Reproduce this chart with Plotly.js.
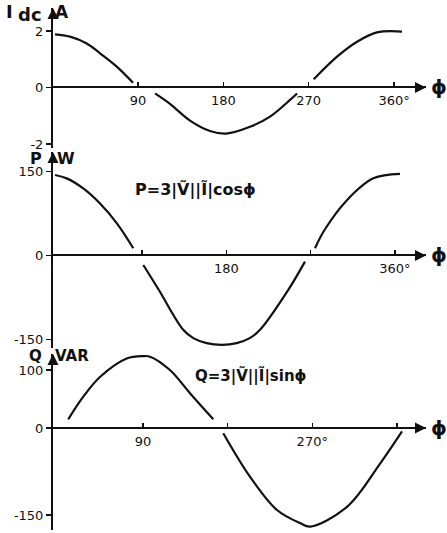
<!DOCTYPE html>
<html>
<head>
<meta charset="utf-8">
<script src="https://cdn.plot.ly/plotly-3.0.1.min.js"></script>
<style>html,body{margin:0;padding:0;background:#fff;}</style>
</head>
<body>
<div id="chart" style="width:447px;height:533px;"></div>
<script>
// Phase angle phi (degrees) with the readings of each quantity.
// A null entry breaks the drawn curve (gaps near the zero crossings).
const phiIdc = [2.4, 18.2, 35.9, 49.9, 67.5, 84.7, null, 107.9, 123.7, 144.8, 165.9, 182.8, 208.1, 229.2, 250.3, 257.7, null, 275.3, 299.9, 321, 342, 368.4];
const idcAmp = [1.88, 1.80, 1.56, 1.21, 0.74, 0.17, null, -0.21, -0.58, -1.17, -1.54, -1.63, -1.39, -1.03, -0.44, -0.21, null, 0.29, 1.09, 1.62, 1.95, 1.98];

const phiP = [-2.9, 9.6, 27.3, 45.2, 63, 80.7, null, 91.4, 107.4, 134, 144.8, 159, 175.4, 191, 205, 216, 246, 264, null, 274.7, 285, 308.8, 337, 365.4];
const pWatt = [144, 138, 120, 93, 58, 13, null, -17, -60, -133, -148, -157, -160, -157, -148, -133, -62, -11, null, 13, 46, 99, 138, 146];

const phiQ = [10.6, 26.6, 44.3, 72.7, 90.4, 97.5, 118.7, 140, 164.8, null, 175.4, 203.8, 232.2, 256.9, 267.9, 306.9, 342.3, 365.4];
const qVar = [15, 54, 88, 120, 124, 123, 100, 60, 15, null, -9, -84, -141, -164, -170, -136, -61, -6];

// Axis ticks and their labels
const phiTicks = [90, 180, 270, 360];
const phiLabelsIdc = ['90', '180', '270', '360°'];
const phiLabelsP = ['', '180', '', '360°'];
const phiLabelsQ = ['90', '', '270°', ''];
const idcTicks = [-2, 0, 2];
const idcLabels = ['-2', '0', '2'];
const pTicks = [-150, 0, 150];
const pLabels = ['-150', '0', '150'];
const qTicks = [-150, 0, 100];
const qLabels = ['-150', '0', '100'];

const W = 447, H = 533;
const ink = '#111';
const tickFont = {family: 'DejaVu Sans, sans-serif', size: 13, color: ink};
const boldFont = 'DejaVu Sans, sans-serif';

// vertical extent of each panel, measured from the top of the page
function dom(topPx, botPx) { return [1 - botPx / H, 1 - topPx / H]; }

const panels = [
  {dom: dom(8, 148),   yr: [-2.142, 2.814],  xr: [0.3, 393.7],  yt: idcTicks, ytt: idcLabels, xtt: phiLabelsIdc},
  {dom: dom(152, 348), yr: [-165.6, 185.2],  xr: [-5.0, 393.2], yt: pTicks,   ytt: pLabels,   xtt: phiLabelsP},
  {dom: dom(354, 530), yr: [-175.9, 127.6],  xr: [-5.6, 390.9], yt: qTicks,   ytt: qLabels,   xtt: phiLabelsQ}
];

const series = [[phiIdc, idcAmp], [phiP, pWatt], [phiQ, qVar]];

const data = series.map((s, i) => ({
  x: s[0], y: s[1],
  xaxis: i === 0 ? 'x' : 'x' + (i + 1),
  yaxis: i === 0 ? 'y' : 'y' + (i + 1),
  type: 'scatter', mode: 'lines',
  line: {color: ink, width: 2.2, shape: 'spline', smoothing: 1.0},
  connectgaps: false, hoverinfo: 'skip', showlegend: false
}));

const layout = {
  width: W, height: H,
  margin: {l: 53, r: 21, t: 0, b: 0, pad: 0},
  paper_bgcolor: '#fff', plot_bgcolor: '#fff',
  showlegend: false,
  annotations: []
};

panels.forEach((p, i) => {
  const s = i === 0 ? '' : String(i + 1);
  // horizontal phi axis sits on the zero line of the panel
  const zeroPos = p.dom[0] + (0 - p.yr[0]) / (p.yr[1] - p.yr[0]) * (p.dom[1] - p.dom[0]);
  layout['xaxis' + s] = {
    range: p.xr, domain: [0, 1], anchor: 'free', position: zeroPos,
    showgrid: false, zeroline: false, showline: false,
    tickmode: 'array', tickvals: phiTicks, ticktext: p.xtt,
    ticks: 'inside', ticklen: 5, tickwidth: 1.5, tickcolor: ink,
    ticklabelstandoff: 4,
    tickfont: tickFont, fixedrange: true
  };
  layout['yaxis' + s] = {
    range: p.yr, domain: p.dom, anchor: 'x' + s,
    showgrid: false, showline: true, linecolor: ink, linewidth: 2,
    zeroline: true, zerolinecolor: ink, zerolinewidth: 2,
    tickmode: 'array', tickvals: p.yt, ticktext: p.ytt,
    ticks: 'outside', ticklen: 5, tickwidth: 1.5, tickcolor: ink,
    tickfont: tickFont, fixedrange: true
  };
  // arrowheads on both axes
  layout.annotations.push({
    xref: 'x' + s + ' domain', yref: 'y' + s + ' domain', x: 0, y: 1,
    ax: 0, ay: 12, showarrow: true, arrowhead: 2, arrowsize: 1.1,
    arrowwidth: 2, arrowcolor: ink, text: ''
  });
  layout.annotations.push({
    xref: 'x' + s + ' domain', yref: 'y' + s, x: 1, y: 0,
    ax: -12, ay: 0, showarrow: true, arrowhead: 2, arrowsize: 1.1,
    arrowwidth: 2, arrowcolor: ink, text: ''
  });
  // phi label at the end of the horizontal axis
  layout.annotations.push({
    xref: 'x' + s + ' domain', yref: 'y' + s, x: 1, y: 0,
    xanchor: 'left', yanchor: 'middle', xshift: 3, yshift: 0,
    text: '<b>ϕ</b>', showarrow: false,
    font: {family: boldFont, size: 20, color: ink}
  });
});

function label(s, text, side, xshift, yshift, size) {
  return {
    xref: 'x' + s + ' domain', yref: 'y' + s + ' domain', x: 0, y: 1,
    xanchor: side, yanchor: 'middle', xshift: xshift, yshift: yshift,
    text: '<b>' + text + '</b>', showarrow: false, borderpad: 0,
    font: {family: boldFont, size: size, color: ink}
  };
}

// axis names and units
layout.annotations.push(label('', 'I', 'right', -39, -4, 18));
layout.annotations.push(label('', 'dc', 'right', -10, -7, 18));
layout.annotations.push(label('', 'A', 'left', 1, -4, 17));
layout.annotations.push(label('2', 'P', 'right', -10, -6, 16));
layout.annotations.push(label('2', 'W', 'left', 3, -6, 16));
layout.annotations.push(label('3', 'Q', 'right', -10, -2, 15));
layout.annotations.push(label('3', 'VAR', 'left', 1, -2, 15));

// formulas written inside the panels
layout.annotations.push({
  xref: 'x2', yref: 'y2', x: 147.6, y: 117, xanchor: 'center', yanchor: 'middle',
  text: '<b>P=3|Ṽ||Ĩ|cosϕ</b>', showarrow: false,
  font: {family: boldFont, size: 16, color: ink}
});
layout.annotations.push({
  xref: 'x3', yref: 'y3', x: 204.8, y: 89.7, xanchor: 'center', yanchor: 'middle',
  text: '<b>Q=3|Ṽ||Ĩ|sinϕ</b>', showarrow: false,
  font: {family: boldFont, size: 15, color: ink}
});

Plotly.newPlot('chart', data, layout, {displayModeBar: false, staticPlot: true});
</script>
</body>
</html>
